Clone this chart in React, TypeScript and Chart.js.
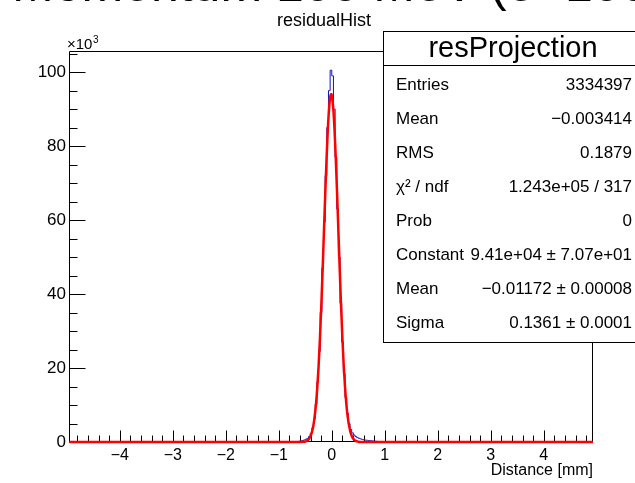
import React, { useEffect, useRef } from "react";
import { Chart, registerables } from "chart.js";

Chart.register(...registerables);

// Histogram bins (centers, mm) and counts (x10^3) of residualHist
const binCenters = [
  -0.6719, -0.6406, -0.6094, -0.5781, -0.5469, -0.5156, -0.4844, -0.4531, -0.4219, -0.3906,
  -0.3594, -0.3281, -0.2969, -0.2656, -0.2344, -0.2031, -0.1719, -0.1406, -0.1094, -0.0781,
  -0.0469, -0.0156, 0.0156, 0.0469, 0.0781, 0.1094, 0.1406, 0.1719, 0.2031, 0.2344,
  0.2656, 0.2969, 0.3281, 0.3594, 0.3906, 0.4219, 0.4531, 0.4844, 0.5156, 0.5469,
  0.5781, 0.6094, 0.6406, 0.6719, 0.7031, 0.7344, 0.7656, 0.7969, 0.8281, 0.8594,
  0.8906, 0.9219, 0.9531, 0.9844, 1.0156,
];
const histCounts = [
  0, 0.15, 0.2, 0.3, 0.4, 0.55, 0.75, 1.0, 1.5, 2.3,
  3.8, 6.2, 10.2, 16.2, 24.5, 35, 47, 59.5, 72, 85,
  95, 100.5, 99, 90, 77, 63, 50, 37.5, 27, 18.5,
  12, 7.8, 5.0, 3.4, 2.5, 1.9, 1.5, 1.2, 1.0, 0.85,
  0.7, 0.6, 0.5, 0.45, 0.4, 0.35, 0.3, 0.25, 0.2, 0.15,
  0.1, 0.08, 0.05, 0.03, 0,
];

// Gaussian fit curve (red) (x10^3)
const fitX = [
  -4.95, -0.6, -0.55, -0.5, -0.45, -0.4, -0.35, -0.3, -0.275, -0.25,
  -0.225, -0.2, -0.175, -0.15, -0.125, -0.1, -0.075, -0.05, -0.025, -0.0117,
  0, 0.025, 0.05, 0.075, 0.1, 0.125, 0.15, 0.175, 0.2, 0.225,
  0.25, 0.275, 0.3, 0.35, 0.4, 0.45, 0.5, 0.55, 0.6, 4.93,
];
const fitY = [
  0, 0.01, 0.04, 0.15, 0.53, 1.61, 4.28, 9.98, 14.5, 20.3,
  27.6, 36.1, 45.8, 56.2, 66.5, 76.2, 84.5, 90.4, 93.65, 94.1,
  93.75, 90.7, 84.9, 76.8, 67.2, 56.8, 46.5, 36.7, 28.1, 20.7,
  14.8, 10.2, 6.83, 2.75, 0.97, 0.3, 0.08, 0.02, 0, 0,
];

const xRangeMin = -4.96;
const xRangeMax = 4.93;
const yRangeMax = 105.7;
const xTickValues = [-4, -3, -2, -1, 0, 1, 2, 3, 4];
const yTickValues = [0, 20, 40, 60, 80, 100];
const xMinorStep = 0.2;
const yMinorStep = 5;

const histTitle = "residualHist";
const xAxisTitle = "Distance [mm]";
const statsTitle = "resProjection";
const statsLabels = ["Entries", "Mean", "RMS", "χ² / ndf", "Prob", "Constant", "Mean", "Sigma"];
const statsValues = [
  "3334397",
  "−0.003414",
  "0.1879",
  "1.243e+05 / 317",
  "0",
  "9.41e+04 ± 7.07e+01",
  "−0.01172 ± 0.00008",
  "0.1361 ± 0.0001",
];
const topBanner = "Momentum 100 MeV (e- 100 MeV)";

const FONT = "'Liberation Sans', Arial, Helvetica, sans-serif";

const fmtNum = (v: number) => (v < 0 ? "−" + Math.abs(v) : String(v));

const rootPlugin = {
  id: "rootDecor",
  beforeDatasetsDraw(chart: any) {
    const { ctx, chartArea: a, scales } = chart;
    const xs = scales.x;
    const ys = scales.y;
    ctx.save();
    ctx.strokeStyle = "#000";
    ctx.lineWidth = 1;
    const L = Math.round(a.left) + 0.5;
    const R = Math.round(a.right) - 0.5;
    const T = Math.round(a.top) + 0.5;
    const B = Math.round(a.bottom) - 0.5;
    ctx.beginPath();
    ctx.moveTo(L, T);
    ctx.lineTo(R, T);
    ctx.lineTo(R, B);
    ctx.lineTo(L, B);
    ctx.closePath();
    ctx.stroke();

    ctx.beginPath();
    const xStart = Math.ceil(xs.min / xMinorStep) * xMinorStep;
    for (let v = xStart; v <= xs.max + 1e-9; v += xMinorStep) {
      const rv = Math.round(v * 10) / 10;
      const major = Math.abs(rv - Math.round(rv)) < 1e-6;
      const px = Math.round(xs.getPixelForValue(rv)) + 0.5;
      ctx.moveTo(px, B);
      ctx.lineTo(px, B - (major ? 11 : 6));
    }
    for (let v = 0; v <= ys.max + 1e-9; v += yMinorStep) {
      const major = v % 20 === 0;
      const py = Math.round(ys.getPixelForValue(v)) + 0.5;
      ctx.moveTo(L, py);
      ctx.lineTo(L + (major ? 16 : 8), py);
    }
    ctx.stroke();
    ctx.restore();
  },
  afterDraw(chart: any) {
    const { ctx } = chart;
    ctx.save();
    ctx.fillStyle = "#000";
    ctx.font = `18px ${FONT}`;
    ctx.textAlign = "center";
    ctx.textBaseline = "alphabetic";
    ctx.fillText(histTitle, 324, 26);

    ctx.textAlign = "left";
    ctx.font = `15px ${FONT}`;
    ctx.fillText("×10", 67, 49);
    const w = ctx.measureText("×10").width;
    ctx.font = `10px ${FONT}`;
    ctx.fillText("3", 67 + w + 0.5, 43);

    const bx = 383.5;
    const by = 31.5;
    const bw = 262;
    const bh = 311;
    ctx.fillStyle = "#fff";
    ctx.fillRect(bx, by, bw, bh);
    ctx.strokeStyle = "#000";
    ctx.lineWidth = 1;
    ctx.strokeRect(bx, by, bw, bh);
    ctx.beginPath();
    ctx.moveTo(bx, 65.5);
    ctx.lineTo(bx + bw, 65.5);
    ctx.stroke();
    ctx.fillStyle = "#000";
    ctx.font = `29px ${FONT}`;
    ctx.textAlign = "center";
    ctx.textBaseline = "middle";
    ctx.fillText(statsTitle, 513, 49);
    ctx.font = `17px ${FONT}`;
    statsLabels.forEach((lab, i) => {
      const yy = 85 + i * 34.1;
      ctx.textAlign = "left";
      ctx.fillText(lab, 396, yy);
      ctx.textAlign = "right";
      ctx.fillText(statsValues[i], 632, yy);
    });
    ctx.restore();
  },
};

export default function App() {
  const canvasRef = useRef<HTMLCanvasElement | null>(null);

  useEffect(() => {
    const canvas = canvasRef.current;
    if (!canvas) return;
    const histData = [
      { x: xRangeMin, y: 0 },
      ...binCenters.map((c, i) => ({ x: c, y: histCounts[i] })),
      { x: xRangeMax, y: 0 },
    ];
    const fitData = fitX.map((x, i) => ({ x, y: fitY[i] }));

    const chart = new Chart(canvas, {
      type: "line",
      data: {
        datasets: [
          {
            label: "fit",
            data: fitData,
            borderColor: "#ff0000",
            borderWidth: 2.5,
            pointRadius: 0,
            cubicInterpolationMode: "monotone",
            fill: false,
            clip: 3,
          },
          {
            label: "residualHist",
            data: histData,
            borderColor: "#1010c0",
            borderWidth: 1,
            pointRadius: 0,
            stepped: "middle",
            fill: false,
            clip: 2,
          },
        ],
      },
      options: {
        animation: false,
        responsive: false,
        maintainAspectRatio: false,
        layout: { padding: { left: 0, right: 42, top: 51, bottom: 0 } },
        plugins: {
          legend: { display: false },
          tooltip: { enabled: false },
          title: { display: false },
        },
        scales: {
          x: {
            type: "linear",
            min: xRangeMin,
            max: xRangeMax,
            grid: { display: false, drawTicks: false },
            border: { display: false },
            afterBuildTicks: (s: any) => {
              s.ticks = xTickValues.map((v) => ({ value: v }));
            },
            afterFit: (s: any) => {
              s.height = 41;
            },
            ticks: {
              autoSkip: false,
              maxRotation: 0,
              padding: 4,
              color: "#000",
              font: { family: FONT, size: 16 },
              callback: (v: any) => fmtNum(Number(v)),
            },
            title: {
              display: true,
              text: xAxisTitle,
              align: "end",
              color: "#000",
              font: { family: FONT, size: 16 },
              padding: { top: 0, bottom: 3 },
            },
          },
          y: {
            type: "linear",
            min: 0,
            max: yRangeMax,
            grid: { display: false, drawTicks: false },
            border: { display: false },
            afterBuildTicks: (s: any) => {
              s.ticks = yTickValues.map((v) => ({ value: v }));
            },
            afterFit: (s: any) => {
              s.width = 69;
            },
            ticks: {
              autoSkip: false,
              padding: 3,
              color: "#000",
              font: { family: FONT, size: 17 },
              callback: (v: any) => fmtNum(Number(v)),
            },
          },
        },
      },
      plugins: [rootPlugin],
    } as any);
    return () => chart.destroy();
  }, []);

  return (
    <div
      style={{
        position: "fixed",
        left: 0,
        top: 0,
        width: 635,
        height: 483,
        background: "#fff",
        overflow: "hidden",
      }}
    >
      <div
        style={{
          position: "absolute",
          left: 12,
          top: -41,
          fontFamily: FONT,
          fontSize: 50,
          lineHeight: 1,
          whiteSpace: "nowrap",
          color: "#000",
        }}
      >
        {topBanner}
      </div>
      <canvas
        ref={canvasRef}
        width={635}
        height={483}
        style={{ position: "absolute", left: 0, top: 0 }}
      />
    </div>
  );
}
